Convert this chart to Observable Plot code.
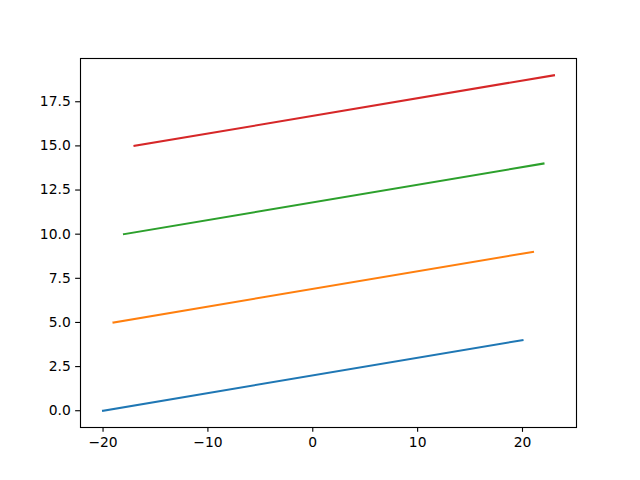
<!DOCTYPE html>
<html>
<head>
<meta charset="utf-8">
<script src="https://cdn.jsdelivr.net/npm/d3@7"></script>
<script src="https://cdn.jsdelivr.net/npm/@observablehq/plot@0.6"></script>
<style>
  html, body { margin: 0; padding: 0; background: #fff; }
  svg { display: block; }
</style>
</head>
<body>
<div id="chart"></div>
<script>
const seriesNames = ["line 0", "line 1", "line 2", "line 3"];
const xValues = [[-20, 20], [-19, 21], [-18, 22], [-17, 23]];
const yValues = [[0, 4], [5, 9], [10, 14], [15, 19]];
const seriesColors = ["#1f77b4", "#ff7f0e", "#2ca02c", "#d62728"];
const xTicks = [-20, -10, 0, 10, 20];
const yTicks = [0, 2.5, 5, 7.5, 10, 12.5, 15, 17.5];

const rows = [];
seriesNames.forEach((name, i) => {
  xValues[i].forEach((x, j) => rows.push({series: name, x, y: yValues[i][j]}));
});

const pt = 100 / 72;
const chart = Plot.plot({
  width: 640,
  height: 480,
  marginLeft: 80,
  marginRight: 64,
  marginTop: 58,
  marginBottom: 53,
  style: {fontFamily: "DejaVu Sans", fontSize: (10 * pt) + "px", color: "#000", background: "#fff"},
  x: {domain: [-22.15, 25.15]},
  y: {domain: [-0.95, 19.95]},
  color: {domain: seriesNames, range: seriesColors},
  marks: [
    Plot.line(rows, {x: "x", y: "y", z: "series", stroke: "series", strokeWidth: 1.5 * pt, strokeLinecap: "square"}),
    Plot.frame({stroke: "#000", strokeWidth: 0.8 * pt}),
    Plot.axisX({ticks: xTicks, tickSize: 3.5 * pt, tickPadding: 3.5 * pt, strokeWidth: 0.8 * pt, label: null, fontSize: 10 * pt, tickFormat: d => d < 0 ? "\u2212" + Math.abs(d) : String(d)}),
    Plot.axisY({ticks: yTicks, tickSize: 3.5 * pt, tickPadding: 3.5 * pt, strokeWidth: 0.8 * pt, label: null, fontSize: 10 * pt, tickFormat: d3.format(".1f")})
  ]
});
document.getElementById("chart").appendChild(chart);
</script>
</body>
</html>
